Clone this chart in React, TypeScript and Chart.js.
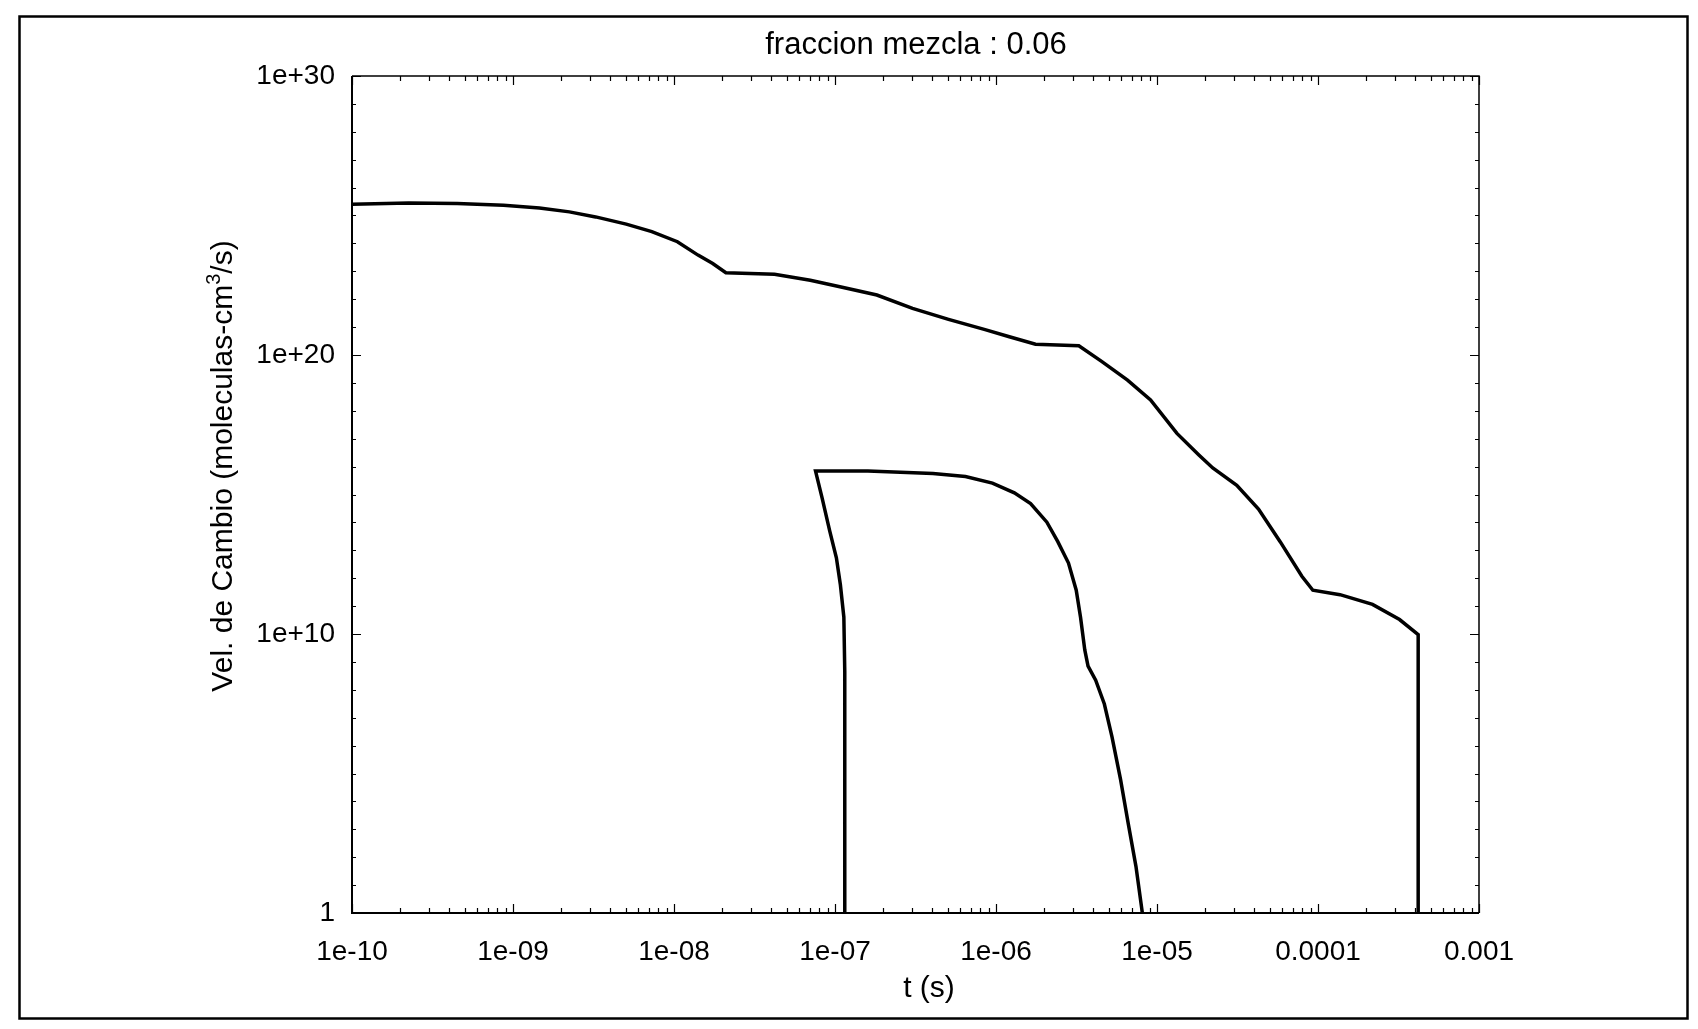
import React, { useEffect, useRef } from 'react';
import { Chart, registerables } from 'chart.js';

Chart.register(...registerables);

// Texts
const chartTitle = 'fraccion mezcla : 0.06';
const xAxisTitle = 't (s)';
const yAxisTitleMain = 'Vel. de Cambio (moleculas-cm';
const yAxisTitleSup = '3';
const yAxisTitleEnd = '/s)';

// Axis ticks
const xTickValues = [1e-10, 1e-9, 1e-8, 1e-7, 1e-6, 1e-5, 1e-4, 1e-3];
const xTickLabels = ['1e-10', '1e-09', '1e-08', '1e-07', '1e-06', '1e-05', '0.0001', '0.001'];
const yTickValues = [1, 1e10, 1e20, 1e30];
const yTickLabels = ['1', '1e+10', '1e+20', '1e+30'];

// Outer curve: time (s) and rate
const outerTime = [
  1e-10, 2.25e-10, 4.51e-10, 8.73e-10, 1.46e-9, 2.24e-9, 3.26e-9, 5.05e-9, 7.28e-9,
  1.05e-8, 1.41e-8, 1.74e-8, 2.1e-8, 4.21e-8, 7.02e-8, 1.09e-7, 1.82e-7, 3.03e-7,
  5.07e-7, 8.45e-7, 1.21e-6, 1.76e-6, 3.27e-6, 4.55e-6, 6.56e-6, 9.12e-6, 1.33e-5,
  1.82e-5, 2.22e-5, 3.13e-5, 4.27e-5, 5.82e-5, 7.94e-5, 9.29e-5, 1.37e-4, 2.18e-4,
  3.21e-4, 4.19e-4, 4.19e-4,
];
const outerRate = [
  2.51e25, 2.82e25, 2.69e25, 2.34e25, 1.86e25, 1.35e25, 8.9e24, 4.9e24, 2.63e24,
  1.15e24, 3.8e23, 1.9e23, 8.9e22, 7.9e22, 4.8e22, 2.75e22, 1.41e22, 4.7e21,
  1.9e21, 8.3e20, 4.5e20, 2.45e20, 2.14e20, 5.8e19, 1.26e19, 2.45e18, 1.55e17,
  2.63e16, 8.9e15, 2.14e15, 3.0e14, 2.04e13, 1.17e12, 3.7e11, 2.57e11, 1.15e11,
  3.3e10, 9.5e9, 1,
];

// Inner curve: time (s) and rate
const innerTime = [
  1.15e-7, 1.15e-7, 1.135e-7, 1.08e-7, 1.02e-7, 9.27e-8, 8.32e-8, 7.57e-8, 1.6e-7,
  4.06e-7, 6.46e-7, 9.5e-7, 1.3e-6, 1.64e-6, 2.07e-6, 2.42e-6, 2.82e-6, 3.15e-6,
  3.35e-6, 3.56e-6, 3.73e-6, 4.16e-6, 4.71e-6, 5.25e-6, 5.94e-6, 6.62e-6, 7.4e-6,
  8.11e-6,
];
const innerRate = [
  1, 4.6e8, 4.0e10, 5.8e11, 5.4e12, 5.0e13, 7.4e14, 6.9e15, 6.9e15,
  5.7e15, 4.4e15, 2.57e15, 1.15e15, 4.7e14, 1.02e14, 2.04e13, 3.5e12, 3.7e11,
  4.0e10, 2.7e9, 7.1e8, 2.2e8, 3.1e7, 2.1e6, 6.0e4, 1.66e3, 47,
  1,
];

const FONT = "'Liberation Sans', Arial, Helvetica, sans-serif";
const W = 1698;
const H = 1029;

const toPoints = (xs: number[], ys: number[]) => xs.map((x, i) => ({ x, y: ys[i] }));

// Frame, tick marks and titles drawn around the plot area
const framePlugin = {
  id: 'gnuFrame',
  beforeDraw(chart: any) {
    const { ctx } = chart;
    ctx.save();
    ctx.fillStyle = '#ffffff';
    ctx.fillRect(0, 0, chart.width, chart.height);
    ctx.restore();
  },
  afterDraw(chart: any) {
    const { ctx, chartArea: a, scales } = chart;
    const xs = scales.x;
    const ys = scales.y;
    ctx.save();
    ctx.strokeStyle = '#000';
    ctx.lineCap = 'butt';

    // axes box
    ctx.lineWidth = 2;
    ctx.beginPath();
    ctx.moveTo(a.left, a.top);
    ctx.lineTo(a.left, a.bottom);
    ctx.lineTo(a.right, a.bottom);
    ctx.stroke();
    ctx.lineWidth = 1.5;
    ctx.beginPath();
    ctx.moveTo(a.left, a.top);
    ctx.lineTo(a.right, a.top);
    ctx.lineTo(a.right, a.bottom);
    ctx.stroke();

    // inward tick marks on the time axis
    ctx.lineWidth = 1.2;
    ctx.beginPath();
    for (let e = -10; e <= -3; e++) {
      for (let m = 1; m < 10; m++) {
        if (e === -3 && m > 1) break;
        const px = Math.round(xs.getPixelForValue(m * Math.pow(10, e))) + 0.5;
        const len = m === 1 ? 9 : 5;
        ctx.moveTo(px, a.bottom);
        ctx.lineTo(px, a.bottom - len);
        ctx.moveTo(px, a.top);
        ctx.lineTo(px, a.top + len);
      }
    }
    // inward tick marks on the rate axis
    for (let e = 0; e <= 30; e++) {
      const py = Math.round(ys.getPixelForValue(Math.pow(10, e))) + 0.5;
      const len = e % 10 === 0 ? 9 : 4;
      ctx.moveTo(a.left, py);
      ctx.lineTo(a.left + len, py);
      ctx.moveTo(a.right, py);
      ctx.lineTo(a.right - len, py);
    }
    ctx.stroke();

    // outer figure frame
    ctx.lineWidth = 2.5;
    ctx.strokeRect(19.5, 16.5, 1668, 1002);

    // titles
    ctx.fillStyle = '#000';
    ctx.textAlign = 'center';
    ctx.textBaseline = 'middle';
    ctx.font = `31px ${FONT}`;
    ctx.fillText(chartTitle, 916, 45);
    ctx.font = `30px ${FONT}`;
    ctx.fillText(xAxisTitle, 929, 989);

    // rotated rate-axis title with superscript
    ctx.translate(224, 466);
    ctx.rotate(-Math.PI / 2);
    ctx.textAlign = 'left';
    const big = `30px ${FONT}`;
    const small = `20px ${FONT}`;
    ctx.font = big;
    const w1 = ctx.measureText(yAxisTitleMain).width;
    const w3 = ctx.measureText(yAxisTitleEnd).width;
    ctx.font = small;
    const w2 = ctx.measureText(yAxisTitleSup).width;
    const start = -(w1 + w2 + w3) / 2;
    ctx.font = big;
    ctx.fillText(yAxisTitleMain, start, 0);
    ctx.font = small;
    ctx.fillText(yAxisTitleSup, start + w1, -10);
    ctx.font = big;
    ctx.fillText(yAxisTitleEnd, start + w1 + w2, 0);
    ctx.restore();
  },
};

export default function App() {
  const canvasRef = useRef<HTMLCanvasElement | null>(null);

  useEffect(() => {
    const canvas = canvasRef.current;
    if (!canvas) return;
    const chart = new Chart(canvas, {
      type: 'scatter',
      data: {
        datasets: [
          {
            data: toPoints(outerTime, outerRate),
            showLine: true,
            borderColor: '#000',
            borderWidth: 3.5,
            pointRadius: 0,
            tension: 0,
          },
          {
            data: toPoints(innerTime, innerRate),
            showLine: true,
            borderColor: '#000',
            borderWidth: 3.5,
            pointRadius: 0,
            tension: 0,
          },
        ],
      },
      options: {
        responsive: false,
        animation: false,
        devicePixelRatio: 1,
        layout: { padding: { left: 242, right: 219, top: 76, bottom: 56 } },
        plugins: {
          legend: { display: false },
          tooltip: { enabled: false },
          title: { display: false },
        },
        scales: {
          x: {
            type: 'logarithmic',
            position: 'bottom',
            min: 1e-10,
            max: 1e-3,
            grid: { display: false },
            border: { display: false },
            afterBuildTicks: (scale: any) => {
              scale.ticks = xTickValues.map((value) => ({ value }));
            },
            afterFit: (scale: any) => {
              scale.height = 60;
            },
            ticks: {
              color: '#000',
              font: { family: FONT, size: 28 },
              padding: 14,
              maxRotation: 0,
              autoSkip: false,
              callback: (_v: any, i: number) => xTickLabels[i],
            },
          },
          y: {
            type: 'logarithmic',
            position: 'left',
            min: 1,
            max: 1e30,
            grid: { display: false },
            border: { display: false },
            afterBuildTicks: (scale: any) => {
              scale.ticks = yTickValues.map((value) => ({ value }));
            },
            afterFit: (scale: any) => {
              scale.width = 110;
            },
            ticks: {
              color: '#000',
              font: { family: FONT, size: 28 },
              padding: 9,
              autoSkip: false,
              callback: (_v: any, i: number) => yTickLabels[i],
            },
          },
        },
      },
      plugins: [framePlugin],
    } as any);
    return () => chart.destroy();
  }, []);

  return (
    <div style={{ position: 'absolute', left: 0, top: 0, width: W, height: H, background: '#fff' }}>
      <canvas ref={canvasRef} width={W} height={H} style={{ display: 'block', width: W, height: H }} />
    </div>
  );
}
